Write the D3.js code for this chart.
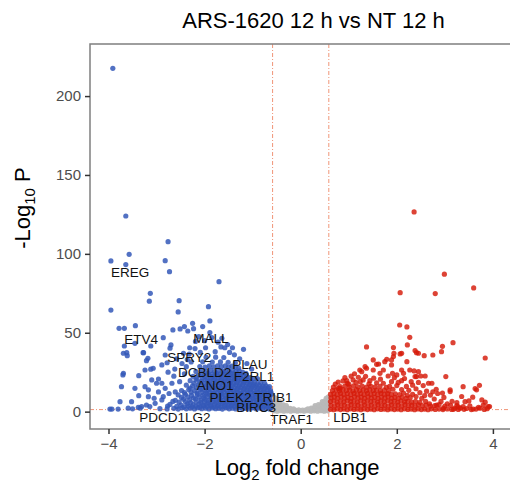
<!DOCTYPE html>
<html>
<head>
<meta charset="utf-8">
<script src="https://cdn.jsdelivr.net/npm/d3@7"></script>
<style>
  body { margin: 0; background: #fff; }
  text { font-family: "Liberation Sans", Arial, Helvetica, sans-serif; }
</style>
</head>
<body>
<div id="volcano"></div>
<script>
// axis ticks
const xTicks = [-4, -2, 0, 2, 4];
const yTicks = [0, 50, 100, 150, 200];
const fcCut = 0.585;   // log2(1.5)
const pCut = 1.3;      // -log10(0.05)

// [log2 fold change, -log10 P]
const downGenes = [
  // outliers / sparse
  [-3.91,217.6],[-3.64,124.0],[-3.95,95.5],[-3.57,99.7],[-3.64,93.2],[-2.76,107.7],[-2.82,95.7],[-2.73,88.7],
  [-1.70,82.4],[-3.95,64.4],[-3.13,75.0],[-3.15,70.0],[-2.53,70.3],[-2.55,63.2],[-1.92,66.5],[-1.89,57.5],
  [-2.25,56.0],[-3.78,52.8],[-3.67,52.8],[-3.44,54.5],[-2.66,51.8],[-2.51,52.4],[-2.42,53.9],[-2.35,51.1],
  [-2.23,52.6],[-2.04,53.9],[-1.89,50.1],
  [-3.67,41.6],[-3.62,37.4],[-3.61,35.5],[-3.28,37.4],[-3.18,33.8],[-3.45,43.3],[-3.12,41.6],[-2.86,46.9],
  [-2.70,42.3],[-3.70,23.3],[-3.37,22.8],[-3.24,26.4],[-3.12,26.9],[-3.73,15.8],[-2.96,20.7],[-3.00,18.0],
  [-3.76,6.3],[-3.17,13.8],[-3.37,10.1],[-3.93,1.6],[-3.80,1.6],[-3.50,1.8],[-3.34,2.2],[-3.14,3.2],
  [-3.03,5.3],[-2.86,9.5],[-3.69,37.0],[-3.27,37.4],[-3.21,32.3],[-3.69,24.3],[-3.07,27.5],[-2.89,29.6],
  [-2.82,35.9],[-2.72,40.2],[-3.10,20.1],[-3.45,14.8],[-3.24,15.8],[-2.89,18.0],[-2.82,14.8],[-2.68,18.0],
  [-3.52,6.3],[-3.17,9.5],[-3.31,3.2],[-2.89,7.4],[-3.97,1.6],[-3.59,2.2],[-3.38,2.8],[-3.21,4.2],
  [-2.78,31.0],[-2.62,27.0],[-2.58,33.5],[-2.47,30.5],[-2.44,37.0],[-2.36,33.0],[-2.31,40.5],[-2.19,44.5],
  [-2.12,47.5],[-2.00,45.0],[-1.85,47.0],[-1.72,44.0],[-1.64,46.5],[-1.58,40.5],[-1.48,37.5],[-1.38,36.0],
  [-1.27,33.5],[-1.19,39.5],[-1.12,30.5],[-1.02,27.0],[-2.76,25.0],[-2.64,22.5],[-2.74,11.5],[-2.61,12.5],
  [-2.66,6.5],[-2.77,3.5],[-2.96,12.5],[-3.05,8.5],[-2.52,19.0],[-2.42,24.0],[-2.38,28.5],[-2.28,31.5],
  [-2.32,36.5],[-2.20,40.0],[-2.09,37.5],[-1.98,40.5],[-1.78,38.0],[-1.66,41.0],[-1.52,42.5],[-1.42,40.5],
  // dense core
  [-2.93,1.9],[-2.78,1.7],[-2.64,2.1],[-2.55,1.6],[-2.47,2.4],[-2.38,1.8],[-2.30,2.2],[-2.21,1.7],[-2.14,2.5],
  [-2.06,1.9],[-1.98,2.2],[-1.91,1.7],[-1.84,2.3],[-1.77,1.9],[-1.70,2.1],[-1.63,1.6],[-1.56,2.4],[-1.49,1.8],
  [-1.42,2.2],[-1.35,1.7],[-1.28,2.3],[-1.21,1.9],[-1.14,2.1],[-1.07,1.7],[-1.00,2.4],[-0.93,1.8],[-0.86,2.2],
  [-0.79,1.7],[-0.72,2.0],[-0.65,1.6],[-0.61,2.6],
  [-2.58,3.3],[-2.43,3.0],[-2.34,3.5],[-2.26,3.1],[-2.18,3.4],[-2.10,3.0],[-2.02,3.5],[-1.95,3.2],[-1.87,3.4],
  [-1.80,3.0],[-1.73,3.5],[-1.66,3.1],[-1.59,3.4],[-1.52,3.0],[-1.45,3.5],[-1.38,3.2],[-1.31,3.4],[-1.24,3.0],
  [-1.17,3.5],[-1.10,3.1],[-1.03,3.4],[-0.96,3.0],[-0.89,3.5],[-0.82,3.2],[-0.75,3.4],[-0.68,3.0],[-0.63,3.3],
  [-2.72,4.6],[-2.49,4.1],[-2.36,5.0],[-2.24,4.4],[-2.12,4.8],[-2.03,4.2],[-1.95,5.1],[-1.87,4.5],[-1.79,4.9],
  [-1.71,4.3],[-1.64,5.0],[-1.57,4.4],[-1.50,4.8],[-1.43,4.2],[-1.36,5.1],[-1.29,4.5],[-1.22,4.9],[-1.15,4.3],
  [-1.08,5.0],[-1.01,4.4],[-0.94,4.8],[-0.87,4.2],[-0.80,5.0],[-0.73,4.5],[-0.66,4.9],[-0.62,4.0],
  [-2.53,6.0],[-2.40,6.3],[-2.29,5.8],[-2.18,6.2],[-2.08,5.9],[-2.00,6.3],[-1.92,5.8],[-1.84,6.2],[-1.76,6.0],
  [-1.68,6.4],[-1.61,5.8],[-1.54,6.2],[-1.47,5.9],[-1.40,6.3],[-1.33,5.8],[-1.26,6.2],[-1.19,6.0],[-1.12,6.4],
  [-1.05,5.8],[-0.98,6.2],[-0.91,5.9],[-0.84,6.3],[-0.77,5.8],[-0.70,6.2],[-0.63,5.9],
  [-2.61,7.2],[-2.44,7.9],[-2.31,7.4],[-2.19,8.0],[-2.08,7.3],[-1.99,7.8],[-1.91,7.2],[-1.83,8.1],[-1.75,7.5],
  [-1.68,7.9],[-1.61,7.3],[-1.54,8.0],[-1.47,7.4],[-1.40,7.9],[-1.33,7.2],[-1.26,8.1],[-1.19,7.5],[-1.12,7.8],
  [-1.05,7.3],[-0.98,8.0],[-0.91,7.4],[-0.84,7.9],[-0.77,7.2],[-0.70,7.7],[-0.64,7.0],
  [-2.48,9.0],[-2.35,9.3],[-2.23,8.8],[-2.12,9.2],[-2.02,8.9],[-1.94,9.3],[-1.86,8.8],[-1.78,9.2],[-1.70,9.0],
  [-1.63,9.4],[-1.56,8.8],[-1.49,9.2],[-1.42,8.9],[-1.35,9.3],[-1.28,8.8],[-1.21,9.2],[-1.14,9.0],[-1.07,9.4],
  [-1.00,8.8],[-0.93,9.2],[-0.86,8.9],[-0.79,9.3],[-0.72,8.8],[-0.65,9.1],
  [-2.55,10.6],[-2.40,11.0],[-2.27,10.3],[-2.15,10.9],[-2.04,10.4],[-1.95,11.1],[-1.87,10.5],[-1.79,10.9],
  [-1.71,10.2],[-1.64,11.0],[-1.57,10.4],[-1.50,10.8],[-1.43,10.3],[-1.36,11.1],[-1.29,10.5],[-1.22,10.9],
  [-1.15,10.3],[-1.08,11.0],[-1.01,10.4],[-0.94,10.8],[-0.87,10.2],[-0.80,10.7],[-0.73,10.0],[-0.66,10.4],[-0.61,11.0],
  [-2.42,12.0],[-2.28,12.3],[-2.16,11.8],[-2.06,12.2],[-1.97,11.9],[-1.89,12.3],[-1.81,11.8],[-1.73,12.2],
  [-1.66,12.0],[-1.59,12.4],[-1.52,11.8],[-1.45,12.2],[-1.38,11.9],[-1.31,12.3],[-1.24,11.8],[-1.17,12.2],
  [-1.10,12.0],[-1.03,12.4],[-0.96,11.8],[-0.89,12.2],[-0.82,11.9],[-0.75,12.3],[-0.68,11.8],[-0.62,12.4],
  [-2.48,13.4],[-2.33,14.0],[-2.21,13.3],[-2.10,13.9],[-2.00,13.5],[-1.92,14.1],[-1.84,13.4],[-1.76,14.0],
  [-1.68,13.3],[-1.61,13.9],[-1.54,13.5],[-1.47,14.1],[-1.40,13.4],[-1.33,13.9],[-1.26,13.3],[-1.19,14.0],
  [-1.12,13.5],[-1.05,13.9],[-0.98,13.2],[-0.91,13.7],[-0.84,13.6],[-0.77,13.2],[-0.70,13.8],[-0.63,13.3],
  [-2.30,15.0],[-2.17,15.3],[-2.07,14.8],[-1.98,15.2],[-1.90,14.9],[-1.82,15.3],[-1.74,14.8],[-1.66,15.2],
  [-1.59,15.0],[-1.52,15.4],[-1.45,14.8],[-1.38,15.2],[-1.31,14.9],[-1.24,15.3],[-1.17,14.8],[-1.10,15.2],
  [-1.03,15.0],[-0.96,15.4],[-0.89,14.8],[-0.82,15.2],[-0.75,14.9],[-0.68,15.1],
  [-2.38,16.8],[-2.25,16.3],[-2.13,17.0],[-2.03,16.4],[-1.94,17.1],[-1.86,16.5],[-1.78,17.0],[-1.70,16.3],
  [-1.63,16.9],[-1.56,16.4],[-1.49,17.1],[-1.42,16.5],[-1.35,16.9],[-1.28,16.3],[-1.21,17.0],[-1.14,16.4],
  [-1.07,16.8],[-1.00,16.1],[-0.93,16.5],[-0.86,16.6],[-0.79,16.0],[-0.72,16.4],[-0.65,15.8],
  [-2.22,18.0],[-2.10,18.4],[-2.00,17.9],[-1.92,18.3],[-1.84,17.8],[-1.76,18.2],[-1.68,18.0],[-1.61,18.4],
  [-1.54,17.8],[-1.47,18.2],[-1.40,17.9],[-1.33,18.3],[-1.26,17.8],[-1.19,18.2],[-1.12,18.0],[-1.05,17.6],[-0.98,17.2],
  [-2.30,19.6],[-2.18,20.1],[-2.07,19.4],[-1.98,20.0],[-1.89,19.5],[-1.81,20.2],[-1.73,19.4],[-1.66,20.0],
  [-1.59,19.5],[-1.52,20.1],[-1.45,19.4],[-1.38,20.0],[-1.31,19.5],[-1.24,20.1],[-1.17,19.3],[-1.10,19.8],
  [-1.03,19.0],[-0.96,18.6],[-0.90,17.8],[-0.83,18.6],[-0.75,18.0],
  [-2.16,21.0],[-2.05,21.3],[-1.95,20.8],[-1.87,21.2],[-1.79,20.9],[-1.71,21.3],[-1.64,20.8],[-1.57,21.2],
  [-1.50,20.9],[-1.43,21.3],[-1.36,20.8],[-1.29,21.2],[-1.22,20.7],[-1.15,21.0],
  [-2.24,22.4],[-2.12,23.0],[-2.01,22.5],[-1.92,23.1],[-1.84,22.4],[-1.76,23.0],[-1.68,22.5],[-1.61,23.1],
  [-1.54,22.4],[-1.47,23.0],[-1.40,22.5],[-1.33,23.1],[-1.26,22.4],[-1.19,22.9],[-1.12,22.2],[-1.05,21.6],
  [-0.98,20.9],[-0.90,21.0],
  [-2.05,24.0],[-1.93,24.3],[-1.84,23.8],[-1.75,24.2],[-1.67,23.9],[-1.59,24.3],[-1.52,23.8],[-1.45,24.2],
  [-1.38,23.9],[-1.31,24.0],[-1.24,23.5],
  [-2.18,25.4],[-2.06,26.0],[-1.96,25.5],[-1.87,26.1],[-1.79,25.4],[-1.71,26.0],[-1.63,25.5],[-1.56,26.1],
  [-1.49,25.4],[-1.42,26.0],[-1.35,25.4],[-1.28,25.9],[-1.21,25.0],[-1.14,24.3],
  [-2.10,28.6],[-1.99,28.2],[-1.90,29.0],[-1.81,28.4],[-1.73,29.1],[-1.65,28.5],[-1.57,29.0],[-1.50,28.3],
  [-1.43,28.9],[-1.36,28.1],[-1.29,27.6],
  [-2.04,31.6],[-1.84,31.4],[-1.67,31.5],[-1.51,31.3],[-1.36,30.9],
  [-1.97,34.4],[-1.77,34.5],[-1.60,34.3]
];

const upGenes = [
  // outliers / sparse
  [2.36,126.6],[2.99,87.1],[2.07,75.4],[2.80,74.8],[3.60,78.4],[2.06,54.9],[2.21,53.7],[2.27,47.1],[2.22,42.3],
  [1.37,41.0],[1.93,40.6],[2.10,37.0],[2.95,41.4],[3.17,43.7],[2.93,38.0],[2.75,35.9],[2.57,35.5],[2.41,37.4],
  [3.84,34.0],[1.93,34.9],[1.79,33.2],[1.51,32.8],[1.58,30.0],[1.72,26.4],[1.89,29.6],[1.91,24.3],[2.10,26.4],
  [2.41,22.2],[2.59,22.6],[2.73,18.0],[3.02,22.2],[3.11,12.7],[3.38,15.8],[3.72,16.7],[3.66,13.8],[3.50,6.8],
  [3.25,5.7],[3.84,6.0],[3.93,3.2],[3.73,2.2],[3.59,1.6],[3.38,3.2],[3.18,1.5],[2.83,4.2],[1.34,28.5],
  [1.23,26.4],[0.97,18.0],[0.78,14.8],[2.38,38.7],[2.45,37.0],[2.36,25.8],[2.50,22.6],[2.66,18.0],[2.82,14.2],
  [3.11,13.8],[3.63,14.6],[3.42,6.3],[3.77,7.4],[3.80,4.2],[3.90,3.2],[3.70,2.8],[3.52,3.6],[3.32,2.2],
  [3.21,2.2],[2.97,2.2],
  [1.62,30.2],[1.75,31.7],[1.89,32.8],[1.94,37.0],[2.07,36.6],[2.21,31.7],[2.27,26.4],[2.14,24.3],[2.00,23.3],
  [1.82,22.6],[1.65,24.3],[1.51,26.4],[1.37,27.5],[1.27,25.3],[1.20,21.8],[1.09,20.1],[0.96,19.6],[0.82,14.8],
  [1.30,20.1],[1.44,19.6],[1.72,18.0],[1.89,19.0],[2.10,19.6],[2.38,22.2],[2.45,25.3],
  [2.55,16.5],[2.62,13.0],[2.70,10.5],[2.78,8.0],[2.85,11.5],[2.92,6.5],[2.98,9.0],[3.05,5.0],[2.48,12.0],
  [2.40,14.5],[2.33,11.0],[2.52,8.5],[2.60,6.5],[2.68,5.0],[2.88,4.5],[3.00,3.5],[3.12,4.0],[3.28,3.0],
  [3.45,2.0],[2.45,18.5],[2.20,16.0],[2.25,13.5],[2.10,14.0],[2.00,16.5],[1.85,16.0],
  [0.72,17.5],[0.88,19.5],[1.05,22.5],[1.15,18.5],
  [0.68,15.6],[0.78,18.8],[0.92,21.6],[1.00,17.4],[1.12,24.0],[1.24,19.0],[1.35,22.4],[1.42,17.6],[1.52,21.2],
  [1.58,18.3],[1.66,20.6],[1.78,15.4],[1.95,21.5],[2.03,18.5],[2.16,21.0],[2.30,19.0],[2.33,16.8],[1.92,14.2],
  [2.14,11.8],[2.22,10.4],[2.40,9.6],[2.58,10.2],[2.75,12.6],[2.95,11.8],[3.28,1.4],[3.40,1.5],[3.55,1.3],
  [3.65,1.6],[3.82,1.4],[3.88,1.9],[3.25,3.8],[3.15,6.6],[3.35,9.6],[3.58,9.2],
  // dense core
  [0.62,1.5],[0.69,1.2],[0.76,1.7],[0.83,1.3],[0.90,1.6],[0.97,1.2],[1.04,1.8],[1.11,1.4],[1.18,1.6],[1.25,1.2],
  [1.32,1.7],[1.39,1.3],[1.46,1.6],[1.53,1.2],[1.60,1.8],[1.67,1.4],[1.74,1.6],[1.81,1.2],[1.88,1.7],[1.95,1.3],
  [2.02,1.6],[2.09,1.2],[2.16,1.8],[2.23,1.4],[2.30,1.6],[2.37,1.2],[2.44,1.7],[2.51,1.3],[2.58,1.6],[2.65,1.2],
  [2.72,1.8],[2.80,1.4],[2.88,1.6],[2.96,1.3],[3.05,1.7],[3.14,1.4],
  [0.63,4.0],[0.70,3.6],[0.77,4.3],[0.84,3.8],[0.91,4.2],[0.98,3.6],[1.05,4.4],[1.12,3.9],[1.19,4.1],[1.26,3.6],
  [1.33,4.3],[1.40,3.8],[1.47,4.2],[1.54,3.6],[1.61,4.4],[1.68,3.9],[1.75,4.1],[1.82,3.6],[1.89,4.3],[1.96,3.8],
  [2.03,4.2],[2.10,3.6],[2.17,4.4],[2.24,3.9],[2.31,4.1],[2.38,3.6],[2.45,4.3],[2.53,3.8],[2.61,4.1],[2.70,3.5],
  [2.79,3.9],
  [0.62,6.4],[0.69,6.8],[0.76,6.1],[0.83,6.7],[0.90,6.2],[0.97,6.9],[1.04,6.3],[1.11,6.7],[1.18,6.1],[1.25,6.8],
  [1.32,6.2],[1.39,6.9],[1.46,6.3],[1.53,6.7],[1.60,6.1],[1.67,6.8],[1.74,6.2],[1.81,6.9],[1.88,6.3],[1.95,6.7],
  [2.02,6.1],[2.09,6.8],[2.16,6.2],[2.23,6.6],[2.31,6.0],[2.39,6.5],[2.48,5.9],
  [0.63,8.8],[0.70,9.2],[0.77,8.6],[0.84,9.3],[0.91,8.7],[0.98,9.1],[1.05,8.5],[1.12,9.3],[1.19,8.7],[1.26,9.2],
  [1.33,8.6],[1.40,9.3],[1.47,8.8],[1.54,9.1],[1.61,8.5],[1.68,9.2],[1.75,8.7],[1.82,9.3],[1.89,8.6],[1.96,9.0],
  [2.03,8.5],[2.11,9.1],[2.19,8.4],[2.28,8.9],
  [0.62,11.0],[0.69,11.4],[0.76,10.9],[0.83,11.6],[0.90,11.0],[0.97,11.5],[1.04,10.9],[1.11,11.6],[1.18,11.1],
  [1.25,11.5],[1.32,10.9],[1.39,11.6],[1.46,11.0],[1.53,11.5],[1.60,10.9],[1.67,11.6],[1.74,11.1],[1.81,11.4],
  [1.89,10.9],[1.97,11.3],[2.06,10.8],
  [0.66,13.3],[0.74,13.8],[0.81,13.2],[0.88,13.9],[0.95,13.4],[1.02,13.8],[1.09,13.2],[1.16,13.9],[1.23,13.4],
  [1.30,13.8],[1.37,13.2],[1.44,13.9],[1.51,13.4],[1.58,13.7],[1.66,13.2],[1.74,13.6],[1.83,13.1],
  [0.82,15.8],[0.92,16.2],[1.01,15.6],[1.10,16.3],[1.19,15.7],[1.28,16.2],[1.37,15.6],[1.46,16.1],[1.55,15.7],
  [1.65,16.0]
];

const nsGenes = [
  [-0.56,0.5],[-0.49,0.3],[-0.42,0.6],[-0.35,0.3],[-0.28,0.5],[-0.21,0.3],[-0.14,0.6],[-0.07,0.3],[0.00,0.5],
  [0.07,0.3],[0.14,0.6],[0.21,0.3],[0.28,0.5],[0.35,0.3],[0.42,0.6],[0.49,0.3],[0.56,0.5],
  [-0.11,1.0],[-0.04,1.1],[0.04,1.0],[0.11,1.1],
  [-0.53,1.5],[-0.46,1.7],[-0.39,1.4],[-0.32,1.6],[-0.25,1.3],[-0.18,1.2],[0.18,1.2],[0.25,1.3],[0.32,1.6],
  [0.39,1.4],[0.46,1.7],[0.53,1.5],
  [-0.57,2.7],[-0.50,2.4],[-0.43,2.8],[-0.36,2.3],[-0.29,2.6],[-0.22,2.1],[-0.15,1.8],[0.15,1.8],[0.22,2.2],
  [0.29,2.5],[0.36,2.3],[0.43,2.8],[0.50,2.4],[0.57,2.7],
  [-0.54,3.8],[-0.47,3.6],[-0.40,3.5],[0.40,3.5],[0.47,3.7],[0.54,3.9],
  [-0.57,4.9],[-0.50,4.6],[-0.43,4.8],[-0.36,4.3],[-0.30,3.8],[0.30,3.8],[0.37,4.4],[0.44,4.8],[0.51,4.6],[0.57,5.0],
  [-0.54,6.0],[-0.47,5.6],[0.48,5.7],[0.54,6.1],
  [-0.57,7.2],[-0.50,6.8],[-0.44,6.3],[0.45,6.4],[0.51,6.9],[0.57,7.3],
  [-0.55,8.2],[0.55,8.0],
  [-0.57,9.4],[-0.52,8.6],[0.53,8.5],[0.57,9.2]
];

const geneLabels = ['EREG', 'ETV4', 'MALL', 'SPRY2', 'DCBLD2', 'PLAU', 'F2RL1',
  'ANO1', 'PLEK2', 'TRIB1', 'BIRC3', 'PDCD1LG2', 'TRAF1', 'LDB1'];
const labelX = [-3.55, -3.32, -1.87, -2.32, -2.0, -1.06, -0.97, -1.78, -1.46, -0.57, -0.93, -2.62, -0.19, 1.03];
const labelY = [88.5, 46.0, 46.4, 34.3, 24.8, 30.2, 22.6, 16.9, 9.3, 9.3, 2.7, -3.7, -4.6, -3.7];

const width = 510, height = 487;
const panel = { left: 90, right: 511.4, top: 44, bottom: 429 };

const svg = d3.select('#volcano').append('svg')
  .attr('width', width)
  .attr('height', height);

const x = d3.scaleLinear().domain([-4.385, 4.385]).range([panel.left, panel.right]);
const y = d3.scaleLinear().domain([-11, 233]).range([panel.bottom, panel.top]);

svg.append('clipPath').attr('id', 'clip')
  .append('rect')
  .attr('x', panel.left).attr('y', panel.top)
  .attr('width', panel.right - panel.left)
  .attr('height', panel.bottom - panel.top);

const plot = svg.append('g').attr('clip-path', 'url(#clip)');

// cutoff lines
const cutStyle = g => g.attr('stroke', '#ec7a55').attr('stroke-width', 0.8)
  .attr('stroke-dasharray', '4,2,1,2').attr('fill', 'none');
[-fcCut, fcCut].forEach(v => {
  plot.append('line')
    .attr('x1', x(v)).attr('x2', x(v))
    .attr('y1', panel.top).attr('y2', panel.bottom)
    .call(cutStyle);
});
plot.append('line')
  .attr('x1', panel.left).attr('x2', panel.right)
  .attr('y1', y(pCut)).attr('y2', y(pCut))
  .call(cutStyle);

function drawPoints(data, color, alpha) {
  plot.append('g')
    .selectAll('circle')
    .data(data)
    .enter()
    .append('circle')
    .attr('cx', d => x(d[0]))
    .attr('cy', d => y(d[1]))
    .attr('r', 2.6)
    .attr('fill', color)
    .attr('fill-opacity', alpha);
}
drawPoints(nsGenes, '#b8b8b8', 0.95);
drawPoints(downGenes, '#3458b8', 0.85);
drawPoints(upGenes, '#d61a08', 0.82);

// gene labels
plot.append('g')
  .selectAll('text')
  .data(geneLabels)
  .enter()
  .append('text')
  .attr('x', (d, i) => x(labelX[i]))
  .attr('y', (d, i) => y(labelY[i]))
  .attr('dy', '0.36em')
  .attr('text-anchor', 'middle')
  .style('font-size', '13.5px')
  .attr('fill', '#111')
  .text(d => d);

// panel border
svg.append('rect')
  .attr('x', panel.left).attr('y', panel.top)
  .attr('width', panel.right - panel.left)
  .attr('height', panel.bottom - panel.top)
  .attr('fill', 'none')
  .attr('stroke', '#7f7f7f')
  .attr('stroke-width', 1.5);

// axes
const xAxis = svg.append('g')
  .attr('transform', `translate(0,${panel.bottom})`)
  .call(d3.axisBottom(x).tickValues(xTicks).tickSize(5).tickPadding(4));
const yAxis = svg.append('g')
  .attr('transform', `translate(${panel.left},0)`)
  .call(d3.axisLeft(y).tickValues(yTicks).tickSize(5).tickPadding(4));
[xAxis, yAxis].forEach(a => {
  a.select('.domain').remove();
  a.selectAll('.tick line').attr('stroke', '#333').attr('stroke-width', 1.5);
  a.selectAll('.tick text').attr('fill', '#4d4d4d').style('font-size', '15px')
    .style('font-family', '"Liberation Sans", Arial, sans-serif');
});

// title
svg.append('text')
  .attr('x', 313.5).attr('y', 28)
  .attr('text-anchor', 'middle')
  .style('font-size', '22px')
  .text('ARS-1620 12 h vs NT 12 h');

// x title
const xt = svg.append('text')
  .attr('x', 297).attr('y', 475)
  .attr('text-anchor', 'middle')
  .style('font-size', '22px');
xt.append('tspan').text('Log');
xt.append('tspan').attr('dy', 5).style('font-size', '15px').text('2');
xt.append('tspan').attr('dy', -5).text(' fold change');

// y title
const yt = svg.append('text')
  .attr('transform', 'translate(30,208) rotate(-90)')
  .attr('text-anchor', 'middle')
  .style('font-size', '22px');
yt.append('tspan').text('-Log');
yt.append('tspan').attr('dy', 5).style('font-size', '15px').text('10');
yt.append('tspan').attr('dy', -5).text(' P');
</script>
</body>
</html>
